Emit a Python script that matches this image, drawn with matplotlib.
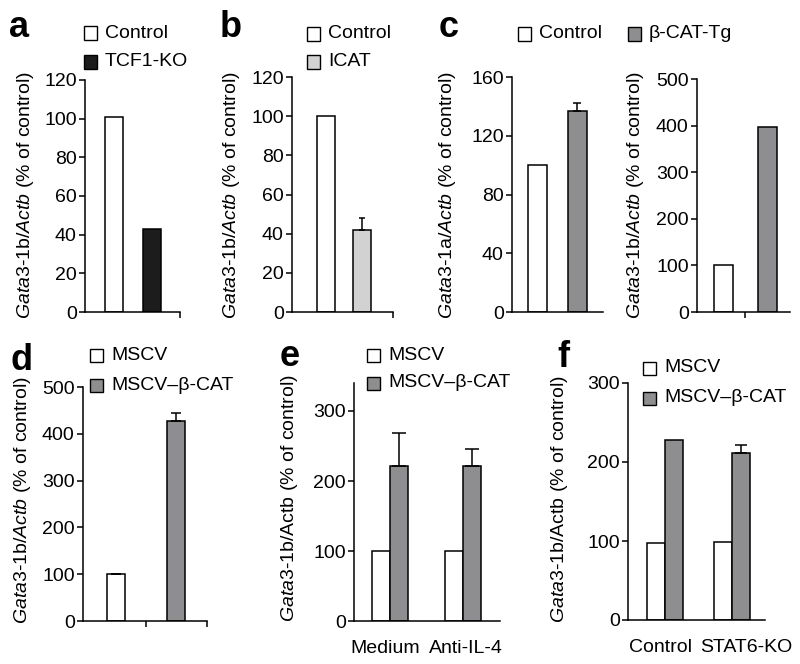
import matplotlib
matplotlib.use('Agg')
import matplotlib.pyplot as plt
from matplotlib.patches import Rectangle

plt.rcParams['font.family'] = ['Liberation Sans', 'DejaVu Sans']
plt.rcParams['mathtext.fontset'] = 'custom'
plt.rcParams['mathtext.rm'] = 'Liberation Sans'
plt.rcParams['mathtext.it'] = 'Liberation Sans:italic'
plt.rcParams['axes.linewidth'] = 1.1

W, H = 800, 664
FS = 14

# panel a
a_groups = ['Control', 'TCF1-KO']
a_vals = [101, 43]
# panel b
b_groups = ['Control', 'ICAT']
b_vals = [100, 42]
b_err = [0, 6]
# panel c
c_groups = ['Control', 'β-CAT-Tg']
c1_vals = [100, 137]
c1_err = [0, 5]
c2_vals = [100, 397]
# panel d
d_groups = ['MSCV', 'MSCV–β-CAT']
d_vals = [100, 428]
d_err = [1, 17]
# panel e
e_cats = ['Medium', 'Anti-IL-4']
e_mscv = [100, 100]
e_bcat = [222, 222]
e_bcat_err = [46, 24]
# panel f
f_cats = ['Control', 'STAT6-KO']
f_mscv = [98, 99]
f_bcat = [228, 212]
f_bcat_err = [0, 9]

WHITE = 'white'
BLACK = '#1c1c1c'
LIGHT = '#d2d2d2'
GRAY = '#8e8e90'

fig = plt.figure(figsize=(8, 6.64), dpi=100)


def axes_px(x0, x1, ytop, ybot):
    return fig.add_axes([x0 / W, 1 - ybot / H, (x1 - x0) / W, (ybot - ytop) / H])


def style(ax, ylim, yticks, xlim, xticks=()):
    ax.set_ylim(*ylim)
    ax.set_xlim(*xlim)
    ax.set_yticks(yticks)
    ax.set_xticks(list(xticks))
    ax.set_xticklabels([])
    for s in ['top', 'right']:
        ax.spines[s].set_visible(False)
    ax.tick_params(axis='y', direction='out', length=4, width=1.1, labelsize=FS, pad=2)
    ax.tick_params(axis='x', direction='out', length=4, width=1.1)
    ax.set_facecolor('none')


def ylabel(x, y, text):
    fig.text(x / W, 1 - y / H, text, rotation=90, ha='center', va='center', fontsize=FS)


def letter(x, y, t):
    fig.text(x / W, 1 - y / H, t, ha='center', va='baseline', fontsize=26, fontweight='bold')


def legend_item(x, y, color, text):
    s = 13
    fig.patches.append(Rectangle(((x) / W, 1 - (y + s / 2) / H), s / W, s / H,
                                 transform=fig.transFigure, facecolor=color,
                                 edgecolor='black', linewidth=1.0))
    fig.text((x + s + 8) / W, 1 - y / H, text, ha='left', va='center', fontsize=FS)


lab_1b = r'$\it{Gata3}$-1b/$\it{Actb}$ (% of control)'
lab_1a = r'$\it{Gata3}$-1a/$\it{Actb}$ (% of control)'
lab_1b_plain = r'$\it{Gata3}$-1b/Actb (% of control)'
bar_kw = dict(edgecolor='black', linewidth=1.1, zorder=2)
err_kw = dict(fmt='none', ecolor='black', elinewidth=1.1, capthick=1.1, zorder=3)

# ---- a
ax = axes_px(85, 180, 80, 312)
ax.bar([0, 1], a_vals, width=0.47, color=[WHITE, BLACK], **bar_kw)
style(ax, (0, 120), range(0, 121, 20), (-0.76, 1.74), [1.74])
ylabel(26, 195, lab_1b)
letter(19, 37, 'a')
legend_item(84, 33, WHITE, a_groups[0])
legend_item(84, 62, BLACK, a_groups[1])

# ---- b
ax = axes_px(292, 393, 77, 312)
ax.bar([0, 1], b_vals, width=0.5, color=[WHITE, LIGHT], **bar_kw)
ax.errorbar([1], [b_vals[1]], yerr=[[0], [b_err[1]]], capsize=2.5, **err_kw)
style(ax, (0, 120), range(0, 121, 20), (-0.93, 1.84), [1.84])
ylabel(231, 195, lab_1b)
letter(231, 37, 'b')
legend_item(307, 34, WHITE, b_groups[0])
legend_item(307, 62, LIGHT, b_groups[1])

# ---- c (left)
ax = axes_px(512, 603, 77, 312)
ax.bar([0, 1], c1_vals, width=0.48, color=[WHITE, GRAY], **bar_kw)
ax.errorbar([1], [c1_vals[1]], yerr=[[0], [c1_err[1]]], capsize=3, **err_kw)
style(ax, (0, 160), range(0, 161, 40), (-0.64, 1.64))
ylabel(447, 195, lab_1a)
letter(449, 37, 'c')

# ---- c (right)
ax = axes_px(697, 790, 79, 312)
ax.bar([0, 1], c2_vals, width=0.43, color=[WHITE, GRAY], **bar_kw)
style(ax, (0, 500), range(0, 501, 100), (-0.60, 1.52), [0.5])
ylabel(635, 195, lab_1b)
legend_item(518, 34, WHITE, c_groups[0])
legend_item(628, 34, GRAY, c_groups[1])

# ---- d
ax = axes_px(83, 207, 387, 621)
ax.bar([0, 1], d_vals, width=0.3, color=[WHITE, GRAY], **bar_kw)
ax.errorbar([0, 1], d_vals, yerr=[[0, 0], d_err], capsize=3.5, **err_kw)
style(ax, (0, 500), range(0, 501, 100), (-0.55, 1.52), [0.5, 1.52])
ylabel(23, 500, lab_1b)
letter(22, 370, 'd')
legend_item(90, 355, WHITE, d_groups[0])
legend_item(90, 385, GRAY, d_groups[1])

# ---- e
ax = axes_px(354, 500, 383, 621)
bw = 0.245
xe = [0, 1]
ax.bar([x - bw / 2 for x in xe], e_mscv, width=bw, color=WHITE, **bar_kw)
ax.bar([x + bw / 2 for x in xe], e_bcat, width=bw, color=GRAY, **bar_kw)
ax.errorbar([x + bw / 2 for x in xe], e_bcat, yerr=[[0, 0], e_bcat_err], capsize=5, **err_kw)
style(ax, (0, 340), range(0, 301, 100), (-0.49, 1.50), [-0.07, 1.04])
ax.set_xticklabels(e_cats, fontsize=FS)
ax.tick_params(axis='x', length=0, pad=14)
ylabel(290, 498, lab_1b_plain)
letter(290, 366, 'e')
legend_item(367, 355, WHITE, d_groups[0])
legend_item(367, 383, GRAY, d_groups[1])

# ---- f
ax = axes_px(628, 765, 383, 620)
bw = 0.27
xf = [0, 1]
ax.bar([x - bw / 2 for x in xf], f_mscv, width=bw, color=WHITE, **bar_kw)
ax.bar([x + bw / 2 for x in xf], f_bcat, width=bw, color=GRAY, **bar_kw)
ax.errorbar([xf[1] + bw / 2], [f_bcat[1]], yerr=[[0], [f_bcat_err[1]]], capsize=4, **err_kw)
style(ax, (0, 300), range(0, 301, 100), (-0.55, 1.49), [-0.06, 1.21])
ax.set_xticklabels(f_cats, fontsize=FS)
ax.tick_params(axis='x', length=0, pad=14)
ylabel(560, 499, lab_1b_plain)
letter(563, 367, 'f')
legend_item(643, 368, WHITE, d_groups[0])
legend_item(643, 398, GRAY, d_groups[1])

fig.savefig('out.png', dpi=100)
